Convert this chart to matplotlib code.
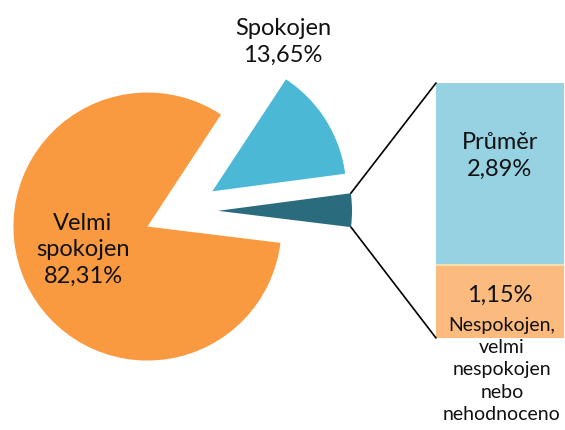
import numpy as np
import matplotlib.pyplot as plt
from matplotlib.patches import ConnectionPatch

# pie slices: velmi spokojen, spokojen, rest (split in the bar)
pie_labels = ['Velmi\nspokojen\n82,31%', 'Spokojen\n13,65%']
pie_values = [82.31, 13.65]
# bar on the right: bottom segment first
bar_labels = ['1,15%', 'Průměr\n2,89%']
bar_values = [1.15, 2.89]
bar_note = 'Nespokojen,\nvelmi\nnespokojen\nnebo\nnehodnoceno'

pie_colors = ['#F99A40', '#4BB8D6', '#2A6B7E']
bar_colors = ['#FBBA7E', '#97D2E3']

plt.rcParams['font.family'] = ['Lato', 'DejaVu Sans']

fig = plt.figure(figsize=(5.65, 4.3), dpi=100)
ax = fig.add_axes([0, 0, 1, 1])

values = pie_values + [sum(bar_values)]
wedges, _ = ax.pie(values, colors=pie_colors, startangle=-7, counterclock=False,
                   radius=134, center=(181, 219), explode=[37, 37, 37],
                   wedgeprops=dict(linewidth=0), frame=True)
ax.set_xlim(0, 565)
ax.set_ylim(0, 430)
ax.set_aspect('equal')
ax.axis('off')

ax.text(83, 180, pie_labels[0], ha='center', va='center', fontsize=17,
        linespacing=1.3, color='#111111')
ax.text(283, 388, pie_labels[1], ha='center', va='center', fontsize=17,
        linespacing=1.3, color='#111111')

# stacked bar
bax = fig.add_axes([436 / 565, 92 / 430, 128 / 565, 255 / 430])
bottom = 0
for v, c in zip(bar_values, bar_colors):
    bax.bar(0, v, width=1, bottom=bottom, color=c, linewidth=0)
    bottom += v
bax.set_xlim(-0.5, 0.5)
bax.set_ylim(0, sum(bar_values))
bax.axis('off')
bax.axhline(bar_values[0], color='#FDE7B0', linewidth=1.2)

bax.text(0, bar_values[0] + bar_values[1] * 0.6, bar_labels[1], ha='center',
         va='center', fontsize=17, linespacing=1.3, color='#111111')
bax.text(0, bar_values[0] * 0.59, bar_labels[0], ha='center', va='center',
         fontsize=17, color='#111111')
# note sits partly over the bar, so draw it with the bar axes
bax.text(502, 60, bar_note, transform=ax.transData, ha='center', va='center',
         fontsize=14, linespacing=1.38, color='#111111', clip_on=False)

# connector lines from the small slice to the bar
w = wedges[2]
cx, cy = w.center
for ang, yb in [(w.theta2, 1), (w.theta1, 0)]:
    p = (cx + w.r * np.cos(np.radians(ang)), cy + w.r * np.sin(np.radians(ang)))
    con = ConnectionPatch(xyA=p, coordsA=ax.transData, xyB=(0, yb),
                          coordsB=bax.transAxes, color='black', linewidth=1.2)
    fig.add_artist(con)

fig.savefig('out.png', dpi=100)
